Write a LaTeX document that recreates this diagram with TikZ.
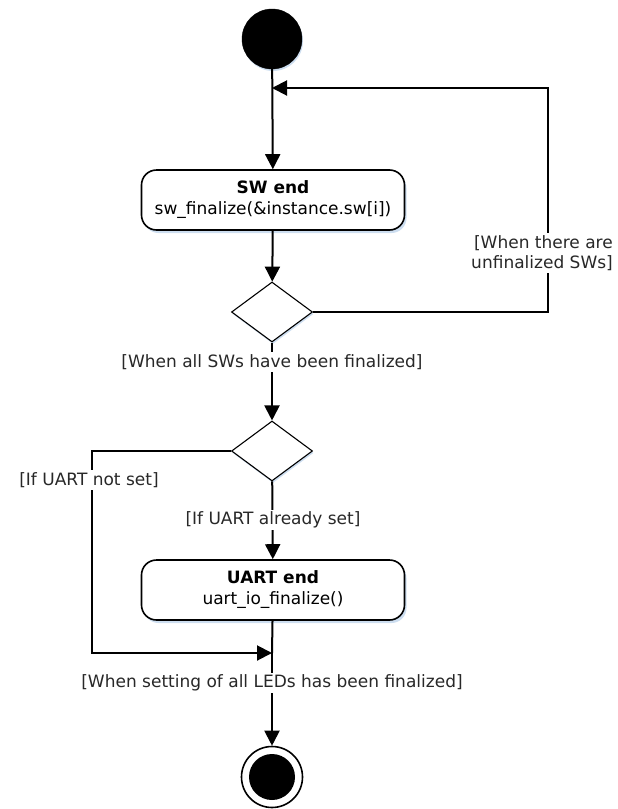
\documentclass[tikz,border=0pt]{standalone}
\usepackage{fontspec}
\setmainfont{DejaVu Sans}
\usetikzlibrary{arrows.meta,shapes.geometric,shadows}
\definecolor{shadowblue}{RGB}{205,222,240}
\definecolor{guardtext}{RGB}{40,40,40}
\tikzset{
  conn/.style={line width=2pt, draw=black},
  arr/.style={conn, -{Triangle[length=15pt,width=15pt]}},
  startc/.style={circle, fill=black, draw=black, minimum size=60pt, inner sep=0pt,
    drop shadow={shadow xshift=1pt, shadow yshift=-2pt, fill=shadowblue, opacity=1}},
  endc/.style={circle, fill=white, draw=black, line width=1.6pt, minimum size=61pt, inner sep=0pt},
  actbox/.style={rectangle, rounded corners=15pt, draw=black, line width=1.6pt, fill=white,
    minimum width=263pt, minimum height=60pt, align=center, inner sep=2pt,
    font=\fontsize{17}{21}\selectfont,
    drop shadow={shadow xshift=2pt, shadow yshift=-3pt, fill=shadowblue, opacity=1}},
  decis/.style={diamond, draw=black, line width=1.1pt, fill=white, minimum width=81pt,
    minimum height=60pt, inner sep=0pt,
    drop shadow={shadow xshift=1pt, shadow yshift=-2pt, fill=shadowblue, opacity=1}},
  guard/.style={fill=white, inner sep=2pt, font=\fontsize{17}{20}\selectfont, text=guardtext}
}
\begin{document}
\begin{tikzpicture}[x=1pt, y=-1pt]
\useasboundingbox (0,0) rectangle (618,809);
% nodes
\node[startc] (start) at (272,39) {};
\coordinate (loopj) at (272,88);
\node[actbox] (sw) at (273,200) {\textbf{SW end}\\sw\_finalize(\&instance.sw[i])};
\node[decis] (d1) at (272,312) {};
\coordinate (looptop) at (548,88);
\node[decis] (d2) at (272,451) {};
\node[actbox] (uart) at (273,590) {\textbf{UART end}\\uart\_io\_finalize()};
\coordinate (leftc) at (92,653);
\coordinate (mergej) at (272,653);
\node[endc] (end) at (272,777) {};
\fill[black] (end.center) circle (23);
% connectors
\draw[arr] (start) -- (sw);
\draw[arr] (sw) -- (d1);
\draw[arr] (d1.east) -| (looptop) -- (loopj);
\draw[arr] (d1) -- (d2);
\draw[arr] (d2) -- (uart);
\draw[arr] (d2.west) -| (leftc) -- (mergej);
\draw[conn] (uart) -- (mergej);
\draw[arr] (mergej) -- (end);
% guard labels
\node[guard, align=right, anchor=east] (g1) at (615,253) {[When there are\\unfinalized SWs]};
\node[guard] (g2) at (272,362) {[When all SWs have been finalized]};
\node[guard] (g3) at (89,480) {[If UART not set]};
\node[guard] (g4) at (273,520) {[If UART already set]};
\node[guard] (g5) at (272,683) {[When setting of all LEDs has been finalized]};
\end{tikzpicture}
\end{document}
